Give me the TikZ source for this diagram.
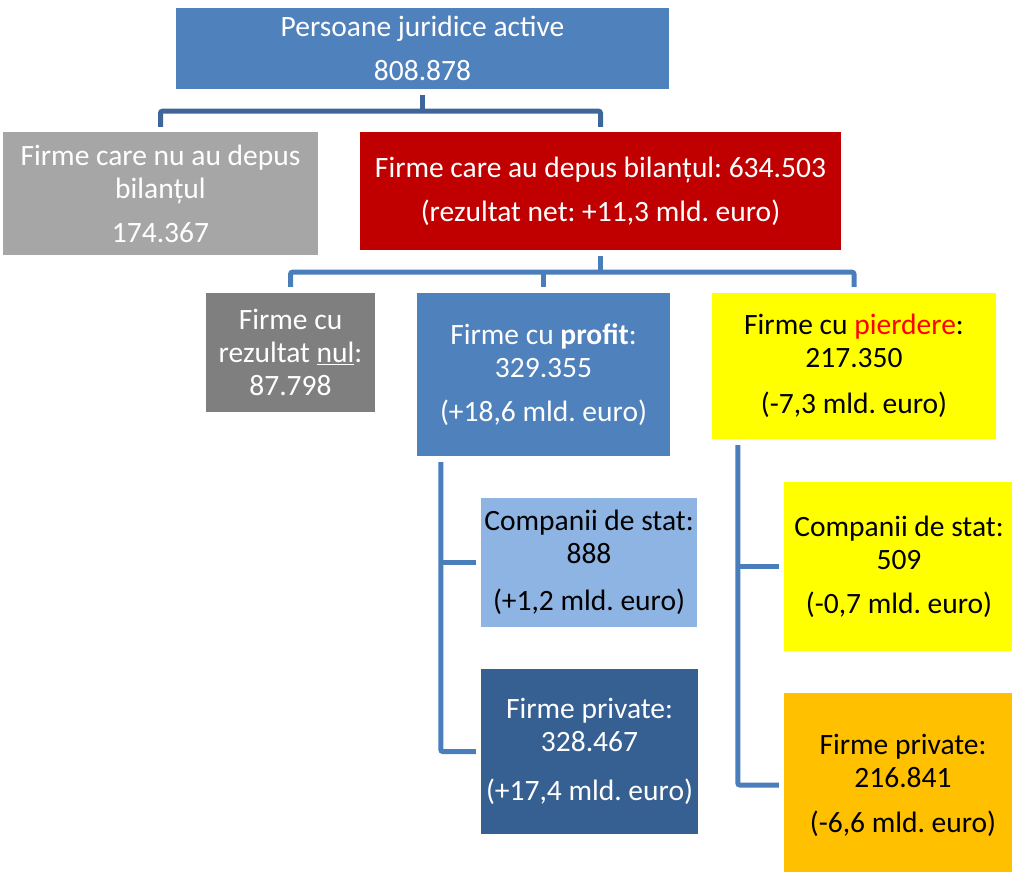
\documentclass[tikz,border=0pt]{standalone}
\usepackage{fontspec}
\setmainfont{Carlito}
\frenchspacing
\definecolor{topblue}{HTML}{4F81BD}
\definecolor{nbgray}{HTML}{A6A6A6}
\definecolor{depred}{HTML}{C00000}
\definecolor{nulgray}{HTML}{7F7F7F}
\definecolor{ltblue}{HTML}{8EB4E3}
\definecolor{dkblue}{HTML}{366092}
\definecolor{yel}{HTML}{FFFF00}
\definecolor{orng}{HTML}{FFC000}
\definecolor{connblue}{HTML}{4A7EBB}
\definecolor{conndark}{HTML}{3F6699}
\begin{document}
\begin{tikzpicture}[x=1pt,y=-1pt,
  box/.style={draw=none, inner sep=0pt, align=center, text=white,
    font=\fontsize{29.5}{33}\selectfont\frenchspacing},
  dbox/.style={box, text=black},
  conn/.style={line width=5pt, draw=connblue, rounded corners=2pt}]
\useasboundingbox (0,0) rectangle (1012,872);

\node[box, fill=topblue, minimum width=493pt, minimum height=81pt] (top) at (422.5,48.5)
  {Persoane juridice active\\[11pt]808.878};
\node[box, fill=nbgray, minimum width=315pt, minimum height=123pt] (nobil) at (160.5,193.5)
  {Firme care nu au depus\\bilanțul\\[11pt]174.367};
\node[box, fill=depred, minimum width=481pt, minimum height=118pt] (dep) at (600.5,191)
  {Firme care au depus bilanțul: 634.503\\[11pt](rezultat net: +11,3 mld. euro)};

\node[box, fill=nulgray, minimum width=169pt, minimum height=119pt] (nul) at (290.5,352.5)
  {Firme cu\\rezultat \underline{nul}:\\87.798};
\node[box, fill=topblue, minimum width=253pt, minimum height=163pt] (profit) at (543.5,374.5)
  {Firme cu \textbf{profit}:\\329.355\\[11pt](+18,6 mld. euro)};
\node[dbox, fill=yel, minimum width=284pt, minimum height=146pt] (loss) at (854,366)
  {Firme cu \textcolor{red}{pierdere}:\\217.350\\[13pt](-7,3 mld. euro)};

\node[dbox, fill=ltblue, minimum width=216pt, minimum height=129pt] (statp) at (589,562.5)
  {Companii de stat:\\888\\[14pt](+1,2 mld. euro)};
\node[box, fill=dkblue, minimum width=217pt, minimum height=165pt] (privp) at (589.5,751.5)
  {Firme private:\\328.467\\[16pt](+17,4 mld. euro)};
\node[dbox, fill=yel, minimum width=230pt, minimum height=169pt] (statl) at (899,566.5)
  {Companii de stat:\\509\\[11pt](-0,7 mld. euro)};
\node[dbox, fill=orng, minimum width=238pt, minimum height=184pt] (privl) at (903,785)
  {Firme private:\\216.841\\[12pt](-6,6 mld. euro)};

% level 1 connector
\draw[conn, draw=conndark] (top.south) ++(0,6) -- ++(0,16) coordinate (tj);
\draw[conn, draw=conndark] ([yshift=5pt]nobil.north) |- (tj) -| ([yshift=5pt]dep.north);

% level 2 connector
\draw[conn] (dep.south) ++(0,6) -- ++(0,16) coordinate (rj);
\draw[conn] ([yshift=6pt]nul.north) |- (rj) -| ([yshift=6pt]loss.north);
\draw[conn] ([yshift=6pt]profit.north) -- (profit.north |- rj);

% profit branch
\coordinate (pv) at ([xshift=24pt,yshift=-6pt]profit.south west);
\draw[conn] (pv) |- ([xshift=-5pt]privp.west);
\draw[conn] (pv |- statp.west) -- ([xshift=-5pt]statp.west);

% loss branch
\coordinate (lv) at ([xshift=26pt,yshift=-6pt]loss.south west);
\draw[conn] (lv) |- ([xshift=-5pt]privl.west);
\draw[conn] (lv |- statl.west) -- ([xshift=-5pt]statl.west);
\end{tikzpicture}
\end{document}
